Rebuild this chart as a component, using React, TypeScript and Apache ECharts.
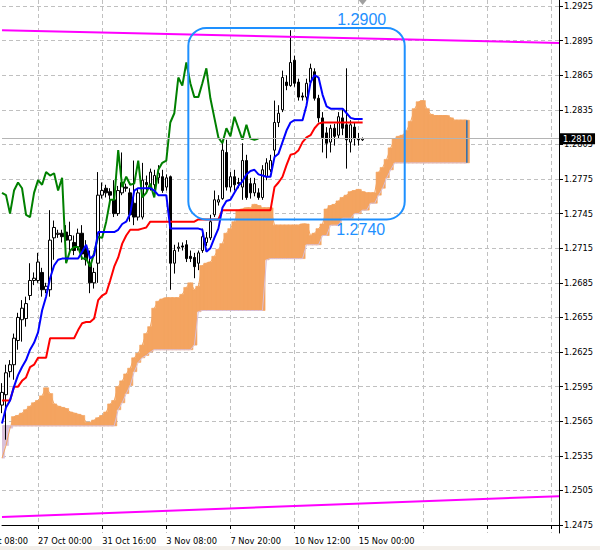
import React, { useEffect, useRef } from "react";
import * as echarts from "echarts";

// ---------- data (prices) ----------
const BASE = 1.2475; // price of the lowest labelled grid line
const Y_MIN = 1.24681;
const Y_MAX = 1.29302;
const SLOTS = 140; // bar slots across the plot (incl. future area)
const CHIKOU_SHIFT = 26;

const opens = [
  1.2579, 1.2588, 1.2608, 1.2614, 1.2635, 1.2653, 1.2654, 1.2674, 1.2687, 1.2687,
  1.2694, 1.2679, 1.2679, 1.2724, 1.2727, 1.2728, 1.2729, 1.2722, 1.272, 1.2716,
  1.2728, 1.2715, 1.2702, 1.2685, 1.2702, 1.2761, 1.2767, 1.2764, 1.2757, 1.2745,
  1.2763, 1.2768, 1.2763, 1.2754, 1.2742, 1.2742, 1.2772, 1.2768, 1.277, 1.2776,
  1.2777, 1.2768, 1.2777, 1.2702, 1.2715, 1.2717, 1.2718, 1.2708, 1.2707, 1.2702,
  1.2713, 1.272, 1.2724, 1.2744, 1.2755, 1.2758, 1.2798, 1.2768, 1.2777, 1.2772,
  1.2768, 1.2791, 1.2771, 1.2763, 1.2763, 1.2759, 1.2777, 1.2783, 1.28, 1.2824,
  1.2835, 1.2859, 1.2856, 1.2878, 1.2859, 1.2847, 1.2846, 1.2859, 1.2868, 1.2845,
  1.2828, 1.2815, 1.2807, 1.2819, 1.2813, 1.2828, 1.2822, 1.2807, 1.282, 1.281,
  1.2809,
];
const highs = [
  1.2598, 1.2614, 1.2618, 1.2641, 1.2659, 1.267, 1.2673, 1.2702, 1.2694, 1.2711,
  1.2698, 1.2685, 1.2748, 1.2739, 1.2731, 1.2731, 1.2735, 1.2738, 1.2726, 1.2732,
  1.2735, 1.2722, 1.2713, 1.2698, 1.2781, 1.2772, 1.277, 1.2767, 1.2774, 1.2769,
  1.2798, 1.2771, 1.2767, 1.2791, 1.2767, 1.2789, 1.2778, 1.2784, 1.2783, 1.2787,
  1.2783, 1.2779, 1.2778, 1.2718, 1.272, 1.272, 1.2722, 1.2713, 1.2711, 1.2713,
  1.2732, 1.2729, 1.2744, 1.2765, 1.2761, 1.2809, 1.2809, 1.2781, 1.2783, 1.2776,
  1.2806, 1.2796, 1.2776, 1.2776, 1.2767, 1.2787, 1.2793, 1.2796, 1.2843, 1.2839,
  1.2869, 1.2865, 1.2904, 1.2882, 1.2862, 1.285, 1.2862, 1.2875, 1.2871, 1.2848,
  1.2833, 1.282, 1.2822, 1.2823, 1.2833, 1.2835, 1.2871, 1.2826, 1.2824, 1.2815,
  1.2811,
];
const lows = [
  1.2572, 1.2549, 1.2603, 1.2601, 1.2627, 1.2634, 1.2647, 1.267, 1.2683, 1.2685,
  1.2673, 1.2676, 1.2673, 1.2705, 1.2724, 1.272, 1.2718, 1.2713, 1.2709, 1.2713,
  1.2705, 1.27, 1.2676, 1.268, 1.2685, 1.2758, 1.2759, 1.2757, 1.2742, 1.2743,
  1.2761, 1.2764, 1.2738, 1.2735, 1.2739, 1.274, 1.2765, 1.2765, 1.2766, 1.2771,
  1.2763, 1.2765, 1.2679, 1.2693, 1.2712, 1.2713, 1.2703, 1.2703, 1.2689, 1.2696,
  1.2711, 1.2717, 1.2722, 1.2742, 1.2752, 1.2757, 1.2765, 1.2764, 1.2765, 1.2767,
  1.2757, 1.2757, 1.2758, 1.276, 1.2757, 1.2757, 1.2774, 1.2781, 1.2794, 1.282,
  1.2833, 1.2852, 1.2855, 1.2855, 1.2843, 1.2843, 1.2843, 1.2856, 1.2843, 1.2824,
  1.2798, 1.2793, 1.2798, 1.2804, 1.281, 1.2813, 1.2784, 1.2798, 1.2804, 1.2804,
  1.2808,
];
const closes = [
  1.259, 1.2607, 1.2614, 1.2637, 1.2655, 1.2663, 1.2667, 1.2687, 1.2689, 1.2703,
  1.2679, 1.2682, 1.2722, 1.2733, 1.2728, 1.2725, 1.2722, 1.2726, 1.2713, 1.2728,
  1.271, 1.2705, 1.2685, 1.2694, 1.2761, 1.2765, 1.2763, 1.2761, 1.2745, 1.2765,
  1.2772, 1.2767, 1.2744, 1.2742, 1.2763, 1.2774, 1.277, 1.2781, 1.2778, 1.278,
  1.2765, 1.2776, 1.2702, 1.2713, 1.2716, 1.2716, 1.2706, 1.2706, 1.2699, 1.2711,
  1.2725, 1.2724, 1.2738, 1.2757, 1.2757, 1.28, 1.2768, 1.2777, 1.277, 1.2771,
  1.2791, 1.2759, 1.2763, 1.2771, 1.2759, 1.2783, 1.2789, 1.2791, 1.2824, 1.2832,
  1.2863, 1.2856, 1.2876, 1.2858, 1.2846, 1.2846, 1.2858, 1.2871, 1.2845, 1.2828,
  1.2811, 1.2806, 1.2819, 1.2812, 1.2829, 1.2819, 1.2809, 1.2822, 1.281, 1.2809,
  1.281,
];
const tenkan = [
  1.2563, 1.2577, 1.2583, 1.2595, 1.2605, 1.2612, 1.2618, 1.2627, 1.2633, 1.2642,
  1.2661, 1.2673, 1.2689, 1.27, 1.2705, 1.2706, 1.2706, 1.2706, 1.2706, 1.2706,
  1.2712, 1.2718, 1.2706, 1.2709, 1.2729, 1.2729, 1.2729, 1.2729, 1.2729, 1.2731,
  1.2736, 1.2738, 1.2745, 1.2765, 1.2767, 1.2767, 1.2767, 1.2767, 1.2765, 1.2761,
  1.2761, 1.2761, 1.2732, 1.2732, 1.2732, 1.2732, 1.2732, 1.2732, 1.2732, 1.2732,
  1.2731, 1.2712, 1.2715, 1.2724, 1.2732, 1.275, 1.2756, 1.2757, 1.2763, 1.2769,
  1.2773, 1.2779, 1.2782, 1.2783, 1.2779, 1.2778, 1.2777, 1.2777, 1.2794, 1.2797,
  1.2807, 1.2817, 1.2824, 1.2826, 1.2826, 1.2826, 1.2839, 1.2859, 1.2865, 1.2863,
  1.2848, 1.2838, 1.2836, 1.2836, 1.2836, 1.2836, 1.2832, 1.2828, 1.2827, 1.2827,
  1.2827,
];
const kijun = [
  1.2583, 1.2583, 1.2583, 1.2595, 1.2595, 1.26, 1.2603, 1.2612, 1.2614, 1.262,
  1.262, 1.262, 1.2637, 1.2637, 1.2637, 1.2637, 1.2637, 1.2637, 1.2637, 1.2644,
  1.265, 1.2651, 1.2651, 1.2654, 1.267, 1.2674, 1.2676, 1.2687, 1.2699, 1.2707,
  1.2719, 1.2726, 1.2731, 1.2731, 1.2731, 1.2732, 1.2733, 1.2738, 1.2738, 1.2738,
  1.2738, 1.2738, 1.2738, 1.2738, 1.2738, 1.2738, 1.2738, 1.2738, 1.2738, 1.274,
  1.274, 1.274, 1.274, 1.274, 1.274, 1.2748, 1.2748, 1.2748, 1.2748, 1.2748,
  1.2748, 1.2748, 1.2748, 1.2748, 1.2748, 1.2748, 1.2748, 1.2748, 1.2768, 1.2772,
  1.2777, 1.2787, 1.2796, 1.2797, 1.28, 1.2807, 1.2811, 1.2813, 1.2819, 1.2823,
  1.2824, 1.2824, 1.2824, 1.2824, 1.2824, 1.2824, 1.2824, 1.2824, 1.2824, 1.2824,
  1.2824,
];
const spanA = [
  1.2533, 1.2544, 1.2559, 1.2569, 1.257, 1.2572, 1.2575, 1.2578, 1.2581, 1.2583,
  1.2587, 1.2594, 1.2589, 1.258, 1.2578, 1.2577, 1.2576, 1.2573, 1.2572, 1.2571,
  1.257, 1.2564, 1.2564, 1.2566, 1.2568, 1.257, 1.2573, 1.258, 1.2583, 1.2595,
  1.26, 1.2606, 1.2611, 1.262, 1.2624, 1.2631, 1.2641, 1.2647, 1.2663, 1.2669,
  1.2671, 1.2672, 1.2672, 1.2672, 1.2672, 1.2675, 1.2681, 1.2685, 1.2679, 1.2682,
  1.27, 1.2702, 1.2703, 1.2708, 1.2714, 1.2719, 1.2728, 1.2732, 1.2738, 1.2748,
  1.2749, 1.275, 1.275, 1.2753, 1.2752, 1.275, 1.275, 1.275, 1.2735, 1.2735,
  1.2735, 1.2735, 1.2735, 1.2735, 1.2735, 1.2736, 1.2736, 1.2726, 1.2728, 1.2732,
  1.2736, 1.2749, 1.2752, 1.2753, 1.2756, 1.2759, 1.2761, 1.2764, 1.2765, 1.2766,
  1.2764, 1.2763, 1.2763, 1.2763, 1.2781, 1.2785, 1.2792, 1.2802, 1.281, 1.2812,
  1.2813, 1.2817, 1.2825, 1.2836, 1.2842, 1.2843, 1.2836, 1.2831, 1.283, 1.283,
  1.283, 1.283, 1.2828, 1.2826, 1.2826, 1.2826, 1.2826,
];
const spanB = [
  1.2561, 1.2561, 1.2561, 1.2561, 1.2561, 1.2561, 1.2561, 1.2561, 1.2561, 1.2561,
  1.2561, 1.2561, 1.2561, 1.2561, 1.2561, 1.2561, 1.2561, 1.2561, 1.2561, 1.2561,
  1.2561, 1.2561, 1.2561, 1.2561, 1.2561, 1.2561, 1.2561, 1.2561, 1.2561, 1.2575,
  1.2581, 1.2589, 1.2596, 1.2608, 1.2616, 1.262, 1.2622, 1.2625, 1.2627, 1.2627,
  1.2627, 1.2627, 1.2627, 1.2627, 1.2627, 1.2627, 1.2627, 1.2627, 1.2631, 1.266,
  1.2661, 1.2661, 1.2661, 1.2661, 1.2661, 1.2661, 1.2661, 1.2661, 1.2661, 1.2661,
  1.2661, 1.2661, 1.2661, 1.2661, 1.2661, 1.2661, 1.2705, 1.2706, 1.2706, 1.2706,
  1.2706, 1.2706, 1.2706, 1.2706, 1.2706, 1.2706, 1.2718, 1.2718, 1.2718, 1.2718,
  1.2726, 1.2726, 1.2735, 1.2735, 1.2735, 1.2741, 1.2741, 1.2741, 1.2745, 1.2745,
  1.2748, 1.2748, 1.2754, 1.2754, 1.2761, 1.2767, 1.2776, 1.2783, 1.2789, 1.2789,
  1.2789, 1.2789, 1.2789, 1.2789, 1.2789, 1.2789, 1.2789, 1.2789, 1.2789, 1.2789,
  1.2789, 1.2789, 1.2789, 1.2789, 1.2789, 1.2789, 1.2789,
];
const trendTop = [1.2904, 1.2893]; // at first and last slot
const trendBottom = [1.2482, 1.25];
const tickBars = [9, 25, 41, 57, 73, 89];
const tickLabels = ["27 Oct 00:00", "31 Oct 16:00", "3 Nov 08:00", "7 Nov 20:00", "10 Nov 12:00", "15 Nov 00:00"];
const prevTickLabel = "24 Oct 08:00";
const lastPrice = 1.281;
const boxBars = [46.5, 100.5];
const boxPrices = [1.2906, 1.274];
const boxLabels = ["1.2900", "1.2740"];

// ---------- helpers ----------
const toY = (p: number) => Math.round((p - BASE) * 1000000) / 100; // pips above BASE
const fromY = (v: number) => (BASE + v / 10000).toFixed(4);
const AXIS_FONT = "'DejaVu Sans', Tahoma, sans-serif";
const FS = 8.3;
const isGridBar = (i: number) => i >= 9 && (i - 9) % 16 === 0;

export default function App() {
  const ref = useRef<HTMLDivElement>(null);

  useEffect(() => {
    if (!ref.current) return;
    const chart = echarts.init(ref.current, null, { renderer: "svg" });
    const cats = Array.from({ length: SLOTS }, (_, i) => String(i));
    const n = closes.length;
    const lastCloud = spanA.length - 1;

    const option: any = {
      animation: false,
      backgroundColor: "#ffffff",
      grid: { left: 2, right: 41, top: 0, bottom: 17, containLabel: false },
      xAxis: {
        type: "category",
        data: cats,
        boundaryGap: false,
        axisLine: { show: true, lineStyle: { color: "#000", width: 1 } },
        axisTick: { show: true, interval: (i: number) => isGridBar(i), length: 4, lineStyle: { color: "#000" } },
        axisLabel: {
          interval: (i: number) => tickBars.indexOf(i) >= 0,
          formatter: (v: string) => {
            const k = tickBars.indexOf(Number(v));
            return k >= 0 ? tickLabels[k] : "";
          },
          align: "left",
          margin: 4,
          color: "#000",
          fontFamily: AXIS_FONT,
          fontSize: FS,
        },
        splitLine: { show: true, interval: (i: number) => isGridBar(i), lineStyle: { color: "#c0c0c0", type: [4, 3], width: 1 } },
      },
      yAxis: {
        type: "value",
        position: "right",
        min: toY(Y_MIN),
        max: toY(Y_MAX),
        splitNumber: 15,
        minInterval: 30,
        maxInterval: 30,
        axisLine: { show: true, lineStyle: { color: "#000", width: 1 } },
        axisTick: { show: true, length: 4, lineStyle: { color: "#000" } },
        axisLabel: {
          margin: 5,
          color: "#000",
          fontFamily: AXIS_FONT,
          fontSize: FS,
          showMinLabel: false,
          showMaxLabel: false,
          formatter: (v: number) => fromY(v),
        },
        splitLine: { show: true, showMinLine: false, showMaxLine: false, lineStyle: { color: "#c0c0c0", type: [4, 3], width: 1 } },
      },
      series: [
        {
          type: "custom",
          name: "Kumo",
          data: spanA.map((a, i) => [i, toY(a), toY(spanB[i])]),
          encode: { x: 0, y: [1, 2] },
          clip: true,
          z: 1,
          renderItem: (params: any, api: any) => {
            const i = api.value(0);
            const a = api.value(1);
            const b = api.value(2);
            const pa = api.coord([i, a]);
            const pb = api.coord([i, b]);
            const w = api.size([1, 0])[0];
            const top = Math.min(pa[1], pb[1]);
            const h = Math.max(Math.abs(pa[1] - pb[1]), 1);
            const col = a >= b ? "#F4A460" : "#D8BFD8";
            return {
              type: "rect",
              shape: { x: pa[0] - w / 2 - 0.6, y: top, width: w + 1.2, height: h },
              style: { fill: col, stroke: col, lineWidth: 0.6 },
            };
          },
        },
        {
          type: "line",
          name: "Senkou Span A",
          data: spanA.map((a, i) => [i, toY(a)]),
          symbol: "none",
          z: 2,
          lineStyle: { color: "#F4A460", width: 1 },
        },
        {
          type: "line",
          name: "Senkou Span B",
          data: spanB.map((b, i) => [i, toY(b)]),
          symbol: "none",
          z: 2,
          lineStyle: { color: "#D8BFD8", width: 1 },
        },
        {
          type: "line",
          name: "Cloud end",
          data: [
            [lastCloud, toY(spanA[lastCloud])],
            [lastCloud, toY(spanB[lastCloud])],
          ],
          symbol: "none",
          z: 3,
          lineStyle: { color: "#2a6db0", width: 1.5 },
        },
        {
          type: "candlestick",
          name: "Price",
          data: opens.map((o, i) => [toY(o), toY(closes[i]), toY(lows[i]), toY(highs[i])]),
          barWidth: 3,
          z: 3,
          itemStyle: { color: "#ffffff", color0: "#000000", borderColor: "#000000", borderColor0: "#000000", borderWidth: 1 },
          markLine: {
            silent: true,
            symbol: ["none", "none"],
            data: [{ yAxis: toY(lastPrice) }],
            lineStyle: { color: "#b4b4b4", type: "solid", width: 1 },
            label: {
              show: true,
              position: "end",
              distance: 1,
              formatter: lastPrice.toFixed(4),
              color: "#fff",
              backgroundColor: "#000",
              padding: [2, 3, 1, 3],
              fontFamily: AXIS_FONT,
              fontSize: FS,
            },
          },
        },
        {
          type: "line",
          name: "Chikou Span",
          data: closes.slice(CHIKOU_SHIFT).map((c, i) => [i, toY(c)]),
          symbol: "none",
          z: 4,
          lineStyle: { color: "#008000", width: 2 },
        },
        {
          type: "line",
          name: "Kijun-sen",
          data: kijun.map((v, i) => [i, toY(v)]),
          symbol: "none",
          z: 4,
          lineStyle: { color: "#ff0000", width: 2 },
        },
        {
          type: "line",
          name: "Tenkan-sen",
          data: tenkan.map((v, i) => [i, toY(v)]),
          symbol: "none",
          z: 5,
          lineStyle: { color: "#0000ff", width: 2 },
        },
        {
          type: "line",
          name: "Upper trend",
          data: [
            [0, toY(trendTop[0])],
            [SLOTS - 1, toY(trendTop[1])],
          ],
          symbol: "none",
          z: 6,
          lineStyle: { color: "#ff00ff", width: 2 },
        },
        {
          type: "line",
          name: "Lower trend",
          data: [
            [0, toY(trendBottom[0])],
            [SLOTS - 1, toY(trendBottom[1])],
          ],
          symbol: "none",
          z: 6,
          lineStyle: { color: "#ff00ff", width: 2 },
        },
      ],
    };
    chart.setOption(option);

    // annotations positioned through the chart's own scales
    const px = (bar: number, price: number) =>
      chart.convertToPixel({ xAxisIndex: 0, yAxisIndex: 0 }, [bar, toY(price)]) as number[];
    const xAt = (b: number) => {
      const f = Math.floor(b);
      const p0 = px(f, lastPrice)[0];
      const p1 = px(f + 1, lastPrice)[0];
      return p0 + (b - f) * (p1 - p0);
    };
    const L = xAt(boxBars[0]);
    const R = xAt(boxBars[1]);
    const T = px(0, boxPrices[0])[1];
    const B = px(0, boxPrices[1])[1];
    const step = px(1, lastPrice)[0] - px(0, lastPrice)[0];
    const firstTickX = px(tickBars[0], lastPrice)[0];
    const lastBarX = px(n - 1, lastPrice)[0];
    const bottomAxisY = px(0, Y_MIN)[1];

    chart.setOption({
      graphic: [
        {
          type: "rect",
          silent: true,
          z: 100,
          shape: { x: L, y: T, width: R - L, height: B - T, r: 18 },
          style: { fill: "none", stroke: "#1E90FF", lineWidth: 2 },
        },
        {
          type: "text",
          silent: true,
          z: 100,
          x: R - 43,
          y: T - 8,
          style: {
            text: boxLabels[0],
            fill: "#1E90FF",
            fontFamily: "'Liberation Sans', Arial, sans-serif",
            fontSize: 16,
            align: "center",
            verticalAlign: "middle",
          },
        },
        {
          type: "text",
          silent: true,
          z: 100,
          x: R - 44,
          y: B + 10,
          style: {
            text: boxLabels[1],
            fill: "#1E90FF",
            fontFamily: "'Liberation Sans', Arial, sans-serif",
            fontSize: 16,
            align: "center",
            verticalAlign: "middle",
          },
        },
        {
          type: "polygon",
          silent: true,
          z: 100,
          shape: {
            points: [
              [lastBarX - 4, 0],
              [lastBarX + 4, 0],
              [lastBarX, 5],
            ],
          },
          style: { fill: "#a0a0a0" },
        },
        {
          type: "text",
          silent: true,
          z: 100,
          x: firstTickX - 16 * step,
          y: bottomAxisY + 4,
          style: {
            text: prevTickLabel,
            fill: "#000",
            fontFamily: AXIS_FONT,
            fontSize: FS,
            align: "left",
            verticalAlign: "top",
          },
        },
        {
          type: "rect",
          silent: true,
          z: 0,
          shape: { x: 0, y: 546, width: 600, height: 4 },
          style: { fill: "#f3efea" },
        },
      ],
    });

    return () => chart.dispose();
  }, []);

  return (
    <div
      ref={ref}
      style={{ position: "absolute", left: 0, top: 0, width: 600, height: 550, background: "#fff" }}
    />
  );
}
